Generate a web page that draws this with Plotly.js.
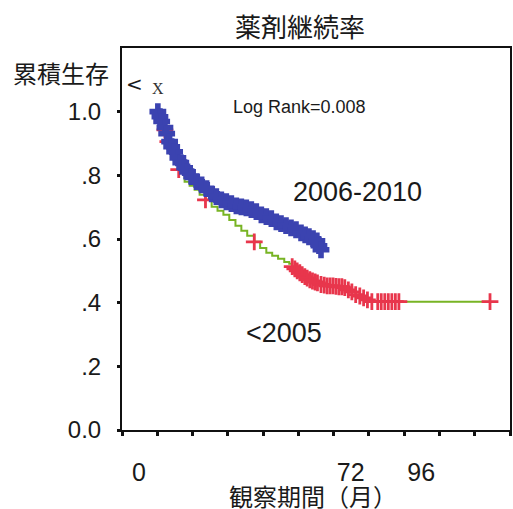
<!DOCTYPE html>
<html>
<head>
<meta charset="utf-8">
<script src="https://cdn.plot.ly/plotly-3.0.1.min.js"></script>
<style>html,body{margin:0;padding:0;background:#fff;overflow:hidden;}#chart{width:513px;height:509px;}</style>
</head>
<body>
<div id="chart"></div>
<script>
// 2006-2010 group (months, cumulative survival); dense censor marks along the curve
var blueTime = [12.2, 12.9, 13.5, 14.6, 15.2, 16.2, 16.9, 17.9, 19.0, 20.0, 21.3, 22.3, 23.7, 25.4, 27.1, 28.8, 30.5, 32.1, 33.8, 35.5, 37.2, 38.9, 40.6, 42.3, 44.0, 45.7, 47.4, 49.1, 50.8, 52.5, 54.1, 55.8, 57.5, 59.2, 60.9, 62.3, 63.6, 65.0, 66.3, 67.0, 67.7];
var blueSurv = [1.000, 0.984, 0.969, 0.950, 0.931, 0.906, 0.890, 0.874, 0.855, 0.840, 0.824, 0.811, 0.796, 0.780, 0.770, 0.758, 0.742, 0.733, 0.723, 0.717, 0.711, 0.704, 0.701, 0.698, 0.692, 0.686, 0.676, 0.670, 0.664, 0.654, 0.648, 0.642, 0.635, 0.629, 0.619, 0.613, 0.607, 0.601, 0.594, 0.579, 0.566];

// <2005 group: step curve
var oldTime = [12.2, 14.6, 15.6, 16.9, 18.3, 19.3, 21.3, 23.0, 24.7, 26.4, 28.4, 30.5, 32.5, 34.5, 36.5, 38.6, 40.6, 42.6, 45.0, 47.0, 49.1, 51.1, 53.1, 55.2, 56.9, 57.9, 59.2, 60.6, 61.9, 63.3, 64.6, 66.3, 68.0, 69.7, 73.1, 76.5, 78.2, 79.5, 80.9, 82.2, 83.2, 84.6, 125.2];
var oldSurv = [1.000, 0.943, 0.906, 0.874, 0.843, 0.818, 0.780, 0.767, 0.755, 0.739, 0.723, 0.701, 0.689, 0.676, 0.660, 0.642, 0.626, 0.610, 0.591, 0.572, 0.557, 0.547, 0.538, 0.528, 0.522, 0.513, 0.503, 0.494, 0.484, 0.475, 0.469, 0.462, 0.456, 0.453, 0.450, 0.443, 0.434, 0.425, 0.421, 0.415, 0.409, 0.403, 0.403];
// <2005 group: censor marks
var oldCensTime = [14.6, 15.6, 19.3, 28.4, 45.0, 57.9, 58.8, 59.6, 60.5, 61.3, 62.2, 63.0, 63.9, 64.8, 65.7, 66.5, 67.7, 68.8, 69.8, 70.8, 71.8, 72.8, 73.8, 74.8, 75.8, 77.0, 78.2, 79.5, 80.9, 82.2, 83.5, 85.0, 87.0, 88.2, 89.4, 90.6, 91.8, 93.0, 94.2, 125.2];
var oldCensSurv = [0.943, 0.906, 0.818, 0.723, 0.591, 0.513, 0.506, 0.500, 0.494, 0.488, 0.482, 0.477, 0.472, 0.468, 0.465, 0.462, 0.457, 0.455, 0.453, 0.453, 0.453, 0.451, 0.450, 0.450, 0.447, 0.440, 0.434, 0.425, 0.421, 0.415, 0.409, 0.403, 0.403, 0.403, 0.403, 0.403, 0.403, 0.403, 0.403, 0.403];

var yTickVals = [0, 0.2, 0.4, 0.6, 0.8, 1.0];
var yTickText = ['0.0', '.2', '.4', '.6', '.8', '1.0'];
var xTickVals = [0, 72, 96];
var xTickText = ['0', '72', '96'];
var xRange = [0, 132];
var yRange = [0, 1.2];

var BLUE = '#3b43b0', RED = '#e8364c', GREEN = '#78b424';
var NUM = 'Liberation Sans, Arial, sans-serif';
var CJK = 'Noto Sans CJK JP, sans-serif';

var traces = [
  {x: oldTime, y: oldSurv, type: 'scatter', mode: 'lines', line: {color: GREEN, width: 2, shape: 'hv'}, hoverinfo: 'skip', name: '<2005'},
  {x: oldCensTime, y: oldCensSurv, type: 'scatter', mode: 'markers', marker: {symbol: 'cross-thin', size: 12, line: {color: RED, width: 2.8}}, name: '<2005 censored'},
  // drawn on the overlaid top/right axes (same ranges) so those frame lines exist
  {x: blueTime, y: blueSurv, xaxis: 'x2', yaxis: 'y2', type: 'scatter', mode: 'lines+markers', line: {color: BLUE, width: 3, shape: 'hv'}, marker: {symbol: 'cross', size: 14, color: BLUE, line: {width: 0}}, name: '2006-2010'}
];

var frameAxis = {showline: true, linecolor: '#111111', linewidth: 2, ticks: '', showticklabels: false, showgrid: false, zeroline: false, fixedrange: true};

var layout = {
  width: 513, height: 509,
  margin: {l: 122, r: 3, t: 48, b: 79, autoexpand: false},
  paper_bgcolor: '#fff', plot_bgcolor: '#fff',
  showlegend: false,
  title: {text: '薬剤継続率', font: {family: CJK, size: 26, color: '#1a1a1a'}, x: 0.585, xanchor: 'center', y: 0.945, yanchor: 'middle'},
  xaxis: {
    range: xRange, tickmode: 'array', tickvals: xTickVals, ticktext: xTickText,
    ticks: 'outside', ticklen: 4, tickwidth: 3, tickcolor: '#111',
    ticklabelshift: 17, ticklabelstandoff: 15,
    minor: {tickmode: 'linear', tick0: 0, dtick: 12, ticks: 'outside', ticklen: 4, tickwidth: 3, tickcolor: '#111', showgrid: false},
    tickfont: {family: NUM, size: 25, color: '#1a1a1a'},
    showline: true, linecolor: '#111111', linewidth: 2,
    showgrid: false, zeroline: false, fixedrange: true
  },
  yaxis: {
    range: yRange, tickmode: 'array', tickvals: yTickVals, ticktext: yTickText,
    ticks: 'outside', ticklen: 3, tickwidth: 3, tickcolor: '#111',
    ticklabelstandoff: 11,
    tickfont: {family: NUM, size: 24, color: '#1a1a1a'},
    showline: true, linecolor: '#111111', linewidth: 2,
    showgrid: false, zeroline: false, fixedrange: true
  },
  xaxis2: Object.assign({overlaying: 'x', side: 'top', anchor: 'y2', range: xRange}, frameAxis),
  yaxis2: Object.assign({overlaying: 'y', side: 'right', anchor: 'x2', range: yRange}, frameAxis),
  annotations: [
    {text: '観察期間（月）', xref: 'paper', yref: 'paper', x: 0.493, y: -0.172, xanchor: 'center', yanchor: 'middle', showarrow: false, font: {family: CJK, size: 24, color: '#1a1a1a'}},
    {text: '累積生存', xref: 'paper', yref: 'paper', x: -0.286, y: 0.935, xanchor: 'left', yanchor: 'middle', showarrow: false, font: {family: CJK, size: 24, color: '#1a1a1a'}},
    {text: '&lt;', xref: 'paper', yref: 'paper', x: 0.004, y: 0.906, xanchor: 'left', yanchor: 'middle', showarrow: false, font: {family: 'DejaVu Sans, sans-serif', size: 20, color: '#1a1a1a'}},
    {text: 'X', xref: 'paper', yref: 'paper', x: 0.073, y: 0.893, xanchor: 'left', yanchor: 'middle', showarrow: false, font: {family: 'Liberation Serif, serif', size: 16, color: '#333'}},
    {text: 'Log Rank=0.008', xref: 'paper', yref: 'paper', x: 0.28, y: 0.846, xanchor: 'left', yanchor: 'middle', showarrow: false, font: {family: NUM, size: 18, color: '#1a1a1a'}},
    {text: '2006-2010', xref: 'paper', yref: 'paper', x: 0.436, y: 0.623, xanchor: 'left', yanchor: 'middle', showarrow: false, font: {family: NUM, size: 27, color: '#1a1a1a'}},
    {text: '&lt;2005', xref: 'paper', yref: 'paper', x: 0.3145, y: 0.253, xanchor: 'left', yanchor: 'middle', showarrow: false, font: {family: NUM, size: 27, color: '#1a1a1a'}}
  ]
};

Plotly.newPlot('chart', traces, layout, {displayModeBar: false, staticPlot: true});
</script>
</body>
</html>
